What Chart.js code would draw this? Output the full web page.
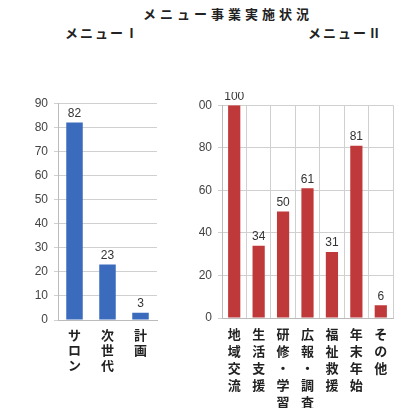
<!DOCTYPE html>
<html>
<head>
<meta charset="utf-8">
<script src="https://cdn.jsdelivr.net/npm/chart.js@4"></script>
<style>
  body { margin: 0; width: 404px; height: 408px; background: #fff; overflow: hidden; position: relative; font-family: "Noto Sans CJK JP", sans-serif; }
  .t { position: absolute; font-weight: bold; color: #222; font-size: 13px; letter-spacing: 2px; white-space: nowrap; line-height: 1; }
  .box { position: absolute; overflow: hidden; }
</style>
</head>
<body>
<div class="t" style="left:143px; top:7px; letter-spacing:4px;">メニュー事業実施状況</div>
<div class="t" style="left:65px; top:26px;">メニューⅠ</div>
<div class="t" style="left:308px; top:26px;">メニューⅡ</div>
<div class="box" style="left:10px; top:90px; width:160px; height:318px;"><canvas id="left"></canvas></div>
<div class="box" style="left:199px; top:92px; width:205px; height:316px;"><canvas id="right"></canvas></div>
<script>
// メニューⅠ
var menu1Labels = ["サロン", "次世代", "計画"];
var menu1Values = [82, 23, 3];
var menu1Ticks = [0, 10, 20, 30, 40, 50, 60, 70, 80, 90];

// メニューⅡ
var menu2Labels = ["地域交流", "生活支援", "研修・学習", "広報・調査", "福祉救援", "年末年始", "その他"];
var menu2Values = [100, 34, 50, 61, 31, 81, 6];
var menu2Ticks = [0, 20, 40, 60, 80, 100];

// 縦書きラベル
function vertical(s) { return s.split(""); }

var valueLabels = {
  id: "valueLabels",
  afterDatasetsDraw: function(chart) {
    var ctx = chart.ctx;
    var meta = chart.getDatasetMeta(0);
    ctx.save();
    ctx.font = "12px 'Liberation Sans', sans-serif";
    ctx.fillStyle = "#333";
    ctx.textAlign = "center";
    ctx.textBaseline = "bottom";
    meta.data.forEach(function(bar, i) {
      ctx.fillText(chart.data.datasets[0].data[i], bar.x, bar.y - 3);
    });
    ctx.restore();
  }
};

function makeChart(id, labels, values, ticks, color, yWidth, xHeight, padRight, padTop, xGrid, lh) {
  return new Chart(document.getElementById(id), {
    type: "bar",
    data: {
      labels: labels.map(vertical),
      datasets: [{
        data: values,
        backgroundColor: color,
        borderWidth: 0,
        barPercentage: 0.5,
        categoryPercentage: 1
      }]
    },
    options: {
      animation: false,
      responsive: true,
      maintainAspectRatio: false,
      layout: { padding: { top: padTop, right: padRight, left: 0, bottom: 0 } },
      plugins: { legend: { display: false }, tooltip: { enabled: false } },
      scales: {
        x: {
          grid: { display: xGrid, color: "#d0d0d0", offset: true, drawTicks: false },
          border: { color: "#bbb" },
          ticks: {
            color: "#222",
            maxRotation: 0,
            autoSkip: false,
            padding: 8,
            font: { size: 13, family: "'Noto Sans CJK JP'", weight: "bold", lineHeight: lh }
          },
          afterFit: function(scale) { scale.height = xHeight; }
        },
        y: {
          min: 0,
          max: ticks[ticks.length - 1],
          afterBuildTicks: function(scale) {
            scale.ticks = ticks.map(function(v) { return { value: v }; });
          },
          grid: { color: "#d0d0d0", drawTicks: true, tickLength: 4 },
          border: { color: "#bbb" },
          ticks: {
            color: "#444",
            padding: 6,
            font: { size: 12, family: "'Liberation Sans'" }
          },
          afterFit: function(scale) { scale.width = yWidth; }
        }
      }
    },
    plugins: [valueLabels]
  });
}

makeChart("left", menu1Labels, menu1Values, menu1Ticks, "#3a6bbd", 48, 88, 13, 11, false, 1.15);
makeChart("right", menu2Labels, menu2Values, menu2Ticks, "#c0393a", 23, 90, 11, 11, true, 1.3);
</script>
</body>
</html>
